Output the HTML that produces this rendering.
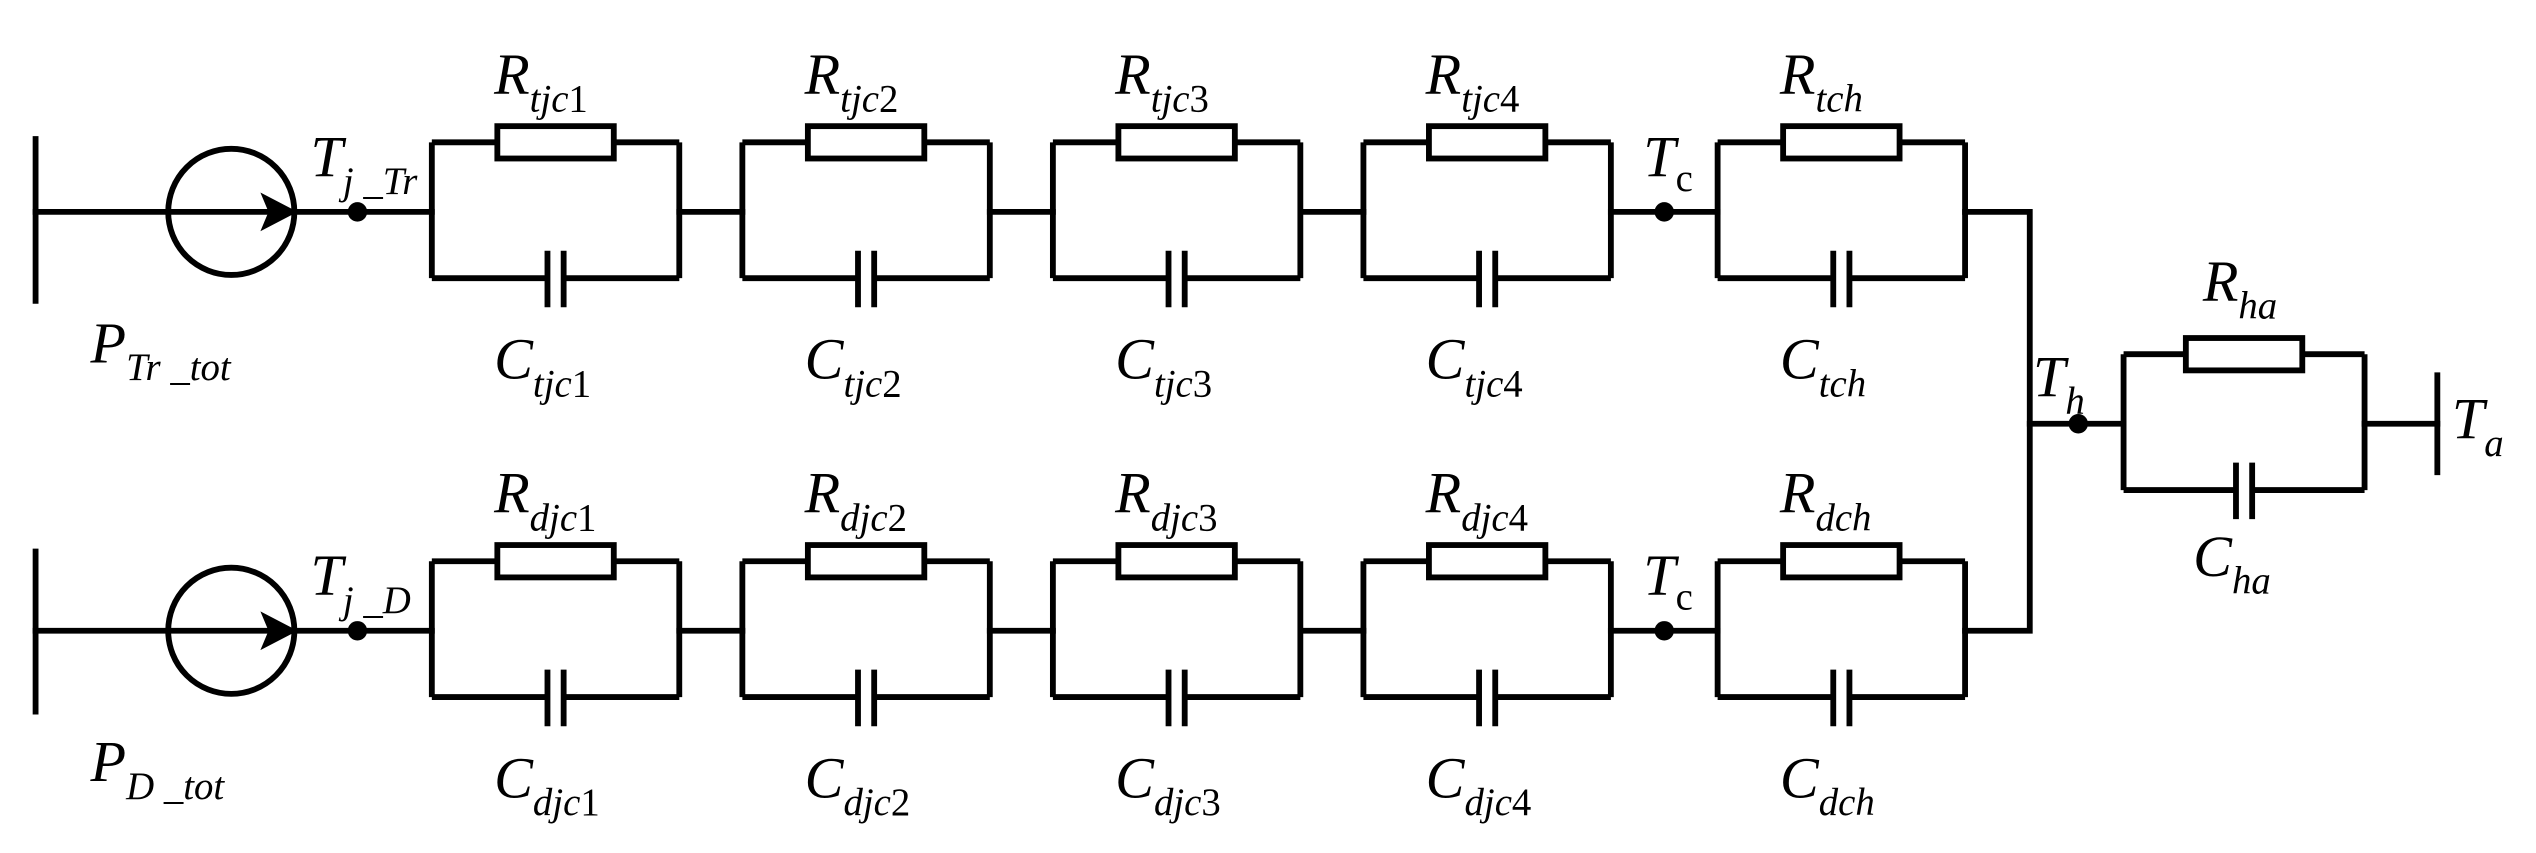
<!DOCTYPE html>
<html><head><meta charset="utf-8"><style>html,body{margin:0;padding:0;background:#fff}svg{display:block}</style></head><body>
<svg width="2536" height="853" viewBox="0 0 1568 527.4" preserveAspectRatio="none" xmlns="http://www.w3.org/2000/svg">
<g fill="none" stroke="#000" stroke-width="3.6" stroke-linecap="square">
<line x1="22" y1="86" x2="22" y2="186"/>
<line x1="22" y1="131" x2="267" y2="131"/>
<circle cx="143" cy="131" r="39"/>
<line x1="420" y1="131" x2="459" y2="131"/><line x1="612" y1="131" x2="651" y2="131"/><line x1="805" y1="131" x2="843" y2="131"/><line x1="996" y1="131" x2="1062" y2="131"/>
<polyline points="1215,131 1255,131 1255,390 1215,390"/>
<line x1="22" y1="341" x2="22" y2="440"/>
<line x1="22" y1="390" x2="267" y2="390"/>
<circle cx="143" cy="390" r="39"/>
<line x1="420" y1="390" x2="459" y2="390"/><line x1="612" y1="390" x2="651" y2="390"/><line x1="805" y1="390" x2="843" y2="390"/><line x1="996" y1="390" x2="1062" y2="390"/>
<line x1="1255" y1="262" x2="1313" y2="262"/>
<line x1="1462" y1="262" x2="1507" y2="262"/>
<line x1="1507" y1="232" x2="1507" y2="292"/>
</g>
<g fill="#000">
<path d="M161,119 L184,131 L161,143 L166,131 Z"/>
<path d="M161,378 L184,390 L161,402 L166,390 Z"/>
<circle cx="221" cy="131" r="6"/><circle cx="1029" cy="131" r="6"/>
<circle cx="221" cy="390" r="6"/><circle cx="1029" cy="390" r="6"/>
<circle cx="1285" cy="262" r="6"/>
</g>
<g id="blocks" fill="none" stroke="#000" stroke-width="3.6"></g>
<g font-family="'Liberation Serif',serif" font-style="italic" font-size="36" fill="#000" id="labels">
<text x="56" y="224">P<tspan font-size="24" dy="11">Tr _tot</tspan></text>
<text x="56" y="483">P<tspan font-size="24" dy="11">D _tot</tspan></text>
<text x="192" y="109">T<tspan font-size="24" dy="11">j _Tr</tspan></text>
<text x="192" y="368">T<tspan font-size="24" dy="11">j _D</tspan></text>
<text x="1016" y="109">T<tspan font-size="24" dy="9" font-style="normal">c</tspan></text>
<text x="1016" y="368">T<tspan font-size="24" dy="9" font-style="normal">c</tspan></text>
<text x="1257" y="245">T<tspan font-size="24" dy="11">h</tspan></text>
<text x="1516" y="271">T<tspan font-size="24" dy="11">a</tspan></text>
<text x="1362" y="186">R<tspan font-size="24" dy="11">ha</tspan></text>
<text x="1356" y="356">C<tspan font-size="24" dy="11">ha</tspan></text>
</g>
<script>
var ns="http://www.w3.org/2000/svg",g=document.getElementById("blocks"),lb=document.getElementById("labels");
function blk(L,R,yT,yB){var m=(L+R)/2,d="M"+L+","+yT+"V"+yB+"M"+R+","+yT+"V"+yB+"M"+L+","+yT+"H"+(m-36)+"M"+(m+36)+","+yT+"H"+R+"M"+L+","+yB+"H"+(m-5)+"M"+(m+5)+","+yB+"H"+R+"M"+(m-5)+","+(yB-17)+"V"+(yB+18)+"M"+(m+5)+","+(yB-17)+"V"+(yB+18);
var p=document.createElementNS(ns,"path");p.setAttribute("d",d);g.appendChild(p);
var r=document.createElementNS(ns,"rect");r.setAttribute("x",m-36);r.setAttribute("y",yT-10);r.setAttribute("width",72);r.setAttribute("height",20);g.appendChild(r);}
function lab(x,y,M,s,n){var t=document.createElementNS(ns,"text");t.setAttribute("x",x);t.setAttribute("y",y);t.textContent=M;var a=document.createElementNS(ns,"tspan");a.setAttribute("font-size","24");a.setAttribute("dy","11");a.textContent=s;t.appendChild(a);if(n){var b=document.createElementNS(ns,"tspan");b.setAttribute("font-size","24");b.setAttribute("font-style","normal");b.textContent=n;t.appendChild(b);}lb.appendChild(t);}
var Ls=[267,459,651,843,1062],sub=[["tjc","1"],["tjc","2"],["tjc","3"],["tjc","4"],["tch",""]],sb=[["djc","1"],["djc","2"],["djc","3"],["djc","4"],["dch",""]];
for(var i=0;i<5;i++){var L=Ls[i],R=L+153,m=(L+R)/2;blk(L,R,88,172);blk(L,R,347,431);
lab(m-38,58,"R",sub[i][0],sub[i][1]);lab(m-38,234,"C",sub[i][0],sub[i][1]);
lab(m-38,317,"R",sb[i][0],sb[i][1]);lab(m-38,493,"C",sb[i][0],sb[i][1]);}
blk(1313,1462,219,303);
</script>
</svg>
</body></html>
